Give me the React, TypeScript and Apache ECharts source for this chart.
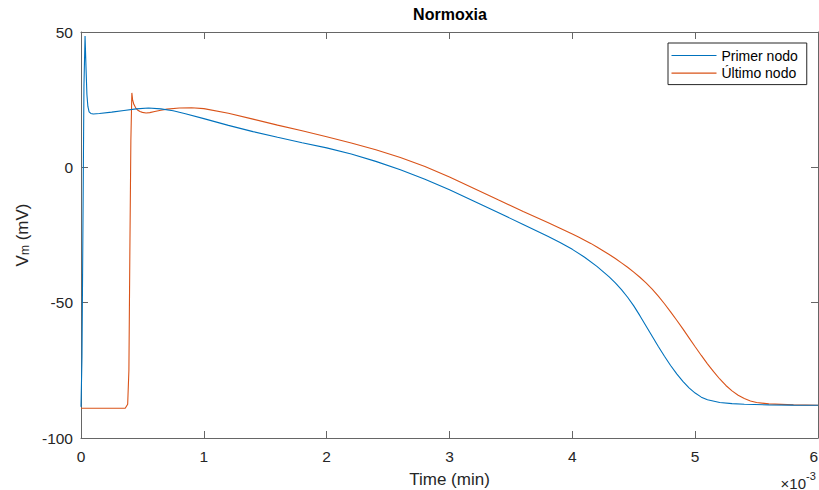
import React, { useEffect, useRef } from "react";
import * as echarts from "echarts";

// Time in units of 1e-3 min (axis shows ×10^-3)
const xTicks = [0, 1, 2, 3, 4, 5, 6];
const yTicks = [-100, -50, 0, 50];

const seriesNames = ["Primer nodo", "Último nodo"];

const primerT = [0, 0.008, 0.016, 0.024, 0.033, 0.04, 0.048, 0.056, 0.066, 0.08, 0.1, 0.15, 0.25, 0.35, 0.45, 0.55, 0.65, 0.75, 0.85, 1.0, 1.2, 1.4, 1.6, 1.8, 2.0, 2.2, 2.4, 2.6, 2.8, 3.0, 3.2, 3.4, 3.6, 3.8, 3.9, 4.0, 4.1, 4.2, 4.3, 4.35, 4.4, 4.45, 4.5, 4.55, 4.6, 4.65, 4.7, 4.75, 4.8, 4.85, 4.9, 4.95, 5.0, 5.05, 5.1, 5.2, 5.3, 5.4, 5.6, 5.8, 6.0];
const primerV = [-88.5, -70, -20, 30, 48.5, 38, 27, 22.5, 20.5, 19.9, 19.7, 19.9, 20.4, 21, 21.6, 21.9, 21.6, 20.9, 19.8, 18, 15.5, 13.2, 11.1, 9.1, 7.2, 4.9, 2.2, -0.9, -4.4, -8.3, -12.5, -16.8, -21.1, -25.5, -27.8, -30.3, -33.2, -36.6, -40.5, -42.7, -45.2, -48.0, -51.2, -54.8, -58.6, -62.4, -66.2, -69.8, -73.2, -76.3, -79.1, -81.5, -83.4, -84.9, -85.9, -86.9, -87.3, -87.55, -87.75, -87.85, -87.9];

const ultimoT = [0, 0.2, 0.36, 0.38, 0.39, 0.398, 0.406, 0.414, 0.42, 0.43, 0.445, 0.46, 0.48, 0.5, 0.53, 0.56, 0.6, 0.65, 0.7, 0.8, 0.9, 1.0, 1.2, 1.4, 1.6, 1.8, 2.0, 2.2, 2.4, 2.6, 2.8, 3.0, 3.2, 3.4, 3.6, 3.8, 3.9, 4.0, 4.05, 4.1, 4.15, 4.2, 4.25, 4.3, 4.35, 4.4, 4.45, 4.5, 4.55, 4.6, 4.65, 4.7, 4.75, 4.8, 4.85, 4.9, 4.95, 5.0, 5.05, 5.1, 5.15, 5.2, 5.25, 5.3, 5.35, 5.4, 5.45, 5.5, 5.6, 5.8, 6.0];
const ultimoV = [-89, -89, -89, -87.5, -75, -30, 10, 27.5, 25, 23.3, 22, 21.2, 20.6, 20.3, 20.1, 20.2, 20.6, 21.1, 21.5, 21.9, 22.0, 21.7, 20.0, 17.8, 15.6, 13.5, 11.3, 9.0, 6.5, 3.6, 0.3, -3.6, -7.8, -12.1, -16.3, -20.4, -22.5, -24.6, -25.7, -26.9, -28.1, -29.4, -30.8, -32.2, -33.7, -35.3, -36.9, -38.7, -40.6, -42.7, -45.0, -47.6, -50.4, -53.4, -56.5, -59.7, -63.0, -66.3, -69.5, -72.6, -75.5, -78.2, -80.6, -82.6, -84.2, -85.4, -86.3, -86.9, -87.4, -87.75, -87.9];

const FONT = '"Liberation Sans", Arial, Helvetica, sans-serif';
const AXIS_COLOR = "#666666";
const TEXT_COLOR = "#262626";

export default function App() {
  const ref = useRef<HTMLDivElement>(null);

  useEffect(() => {
    if (!ref.current) return;
    const chart = echarts.init(ref.current, undefined, { renderer: "svg" });

    const pairs = (t: number[], v: number[]) => t.map((x, i) => [x, v[i]]);

    const baseAxisLine = { show: true, onZero: false, lineStyle: { color: AXIS_COLOR, width: 1 } };
    const tickStyle = { show: true, inside: true, length: 7, lineStyle: { color: AXIS_COLOR, width: 1 } };

    chart.setOption({
      animation: false,
      textStyle: { fontFamily: FONT },
      title: {
        text: "Normoxia",
        left: 450,
        textAlign: "center",
        top: 6,
        padding: 0,
        textStyle: { fontSize: 16, fontWeight: "bold", color: "#000", fontFamily: FONT },
      },
      grid: { left: 81, right: 1, top: 32, bottom: 52, containLabel: false, outerBoundsMode: "none" },
      legend: {
        data: seriesNames,
        orient: "vertical",
        left: 668,
        top: 43,
        padding: [5, 9, 4, 3.5],
        itemGap: 2.6,
        itemWidth: 45,
        itemHeight: 1.2,
        icon: "rect",
        backgroundColor: "#ffffff",
        borderColor: "#262626",
        borderWidth: 1,
        borderRadius: 0,
        textStyle: { fontSize: 14, lineHeight: 15, color: "#000", fontFamily: FONT },
      },
      xAxis: [
        {
          type: "value",
          min: xTicks[0],
          max: xTicks[xTicks.length - 1],
          interval: 1,
          position: "bottom",
          name: "Time (min)",
          nameLocation: "middle",
          nameGap: 33,
          nameTextStyle: { fontSize: 17, color: TEXT_COLOR, fontFamily: FONT },
          axisLine: baseAxisLine,
          axisTick: tickStyle,
          splitLine: { show: false },
          axisLabel: { fontSize: 15.5, color: TEXT_COLOR, margin: 10, fontFamily: FONT, alignMaxLabel: "right" },
        },
        {
          type: "value",
          min: xTicks[0],
          max: xTicks[xTicks.length - 1],
          interval: 1,
          position: "top",
          axisLine: baseAxisLine,
          axisTick: tickStyle,
          splitLine: { show: false },
          axisLabel: { show: false },
        },
      ],
      yAxis: [
        {
          type: "value",
          min: yTicks[0],
          max: yTicks[yTicks.length - 1],
          interval: 50,
          position: "left",
          name: "{a|V}{b|m}{a| (mV)}",
          nameLocation: "middle",
          nameRotate: 90,
          nameGap: 35,
          nameTextStyle: {
            color: TEXT_COLOR,
            fontFamily: FONT,
            rich: {
              a: { fontSize: 17, lineHeight: 17, color: TEXT_COLOR, fontFamily: FONT },
              b: { fontSize: 12, lineHeight: 12, padding: [17, 0, 0, 0], verticalAlign: "bottom", color: TEXT_COLOR, fontFamily: FONT },
            },
          },
          axisLine: baseAxisLine,
          axisTick: tickStyle,
          splitLine: { show: false },
          axisLabel: { fontSize: 15.5, color: TEXT_COLOR, margin: 8, fontFamily: FONT },
        },
        {
          type: "value",
          min: yTicks[0],
          max: yTicks[yTicks.length - 1],
          interval: 50,
          position: "right",
          axisLine: baseAxisLine,
          axisTick: tickStyle,
          splitLine: { show: false },
          axisLabel: { show: false },
        },
      ],
      graphic: [
        {
          type: "text",
          x: 806,
          y: 483,
          style: { text: "×10", align: "right", verticalAlign: "middle", font: `15px ${FONT}`, fill: TEXT_COLOR },
        },
        {
          type: "text",
          x: 806,
          y: 476,
          style: { text: "-3", align: "left", verticalAlign: "middle", font: `11px ${FONT}`, fill: TEXT_COLOR },
        },
      ],
      series: [
        {
          name: seriesNames[0],
          type: "line",
          xAxisIndex: 0,
          yAxisIndex: 0,
          data: pairs(primerT, primerV),
          showSymbol: false,
          symbol: "none",
          lineStyle: { color: "#0072BD", width: 1.1 },
          itemStyle: { color: "#0072BD" },
          z: 3,
        },
        {
          name: seriesNames[1],
          type: "line",
          xAxisIndex: 0,
          yAxisIndex: 0,
          data: pairs(ultimoT, ultimoV),
          showSymbol: false,
          symbol: "none",
          lineStyle: { color: "#D95319", width: 1.1 },
          itemStyle: { color: "#D95319" },
          z: 2,
        },
      ],
    });

    return () => chart.dispose();
  }, []);

  return (
    <div
      ref={ref}
      style={{ position: "absolute", left: 0, top: 0, width: 819, height: 490, background: "#fff" }}
    />
  );
}
